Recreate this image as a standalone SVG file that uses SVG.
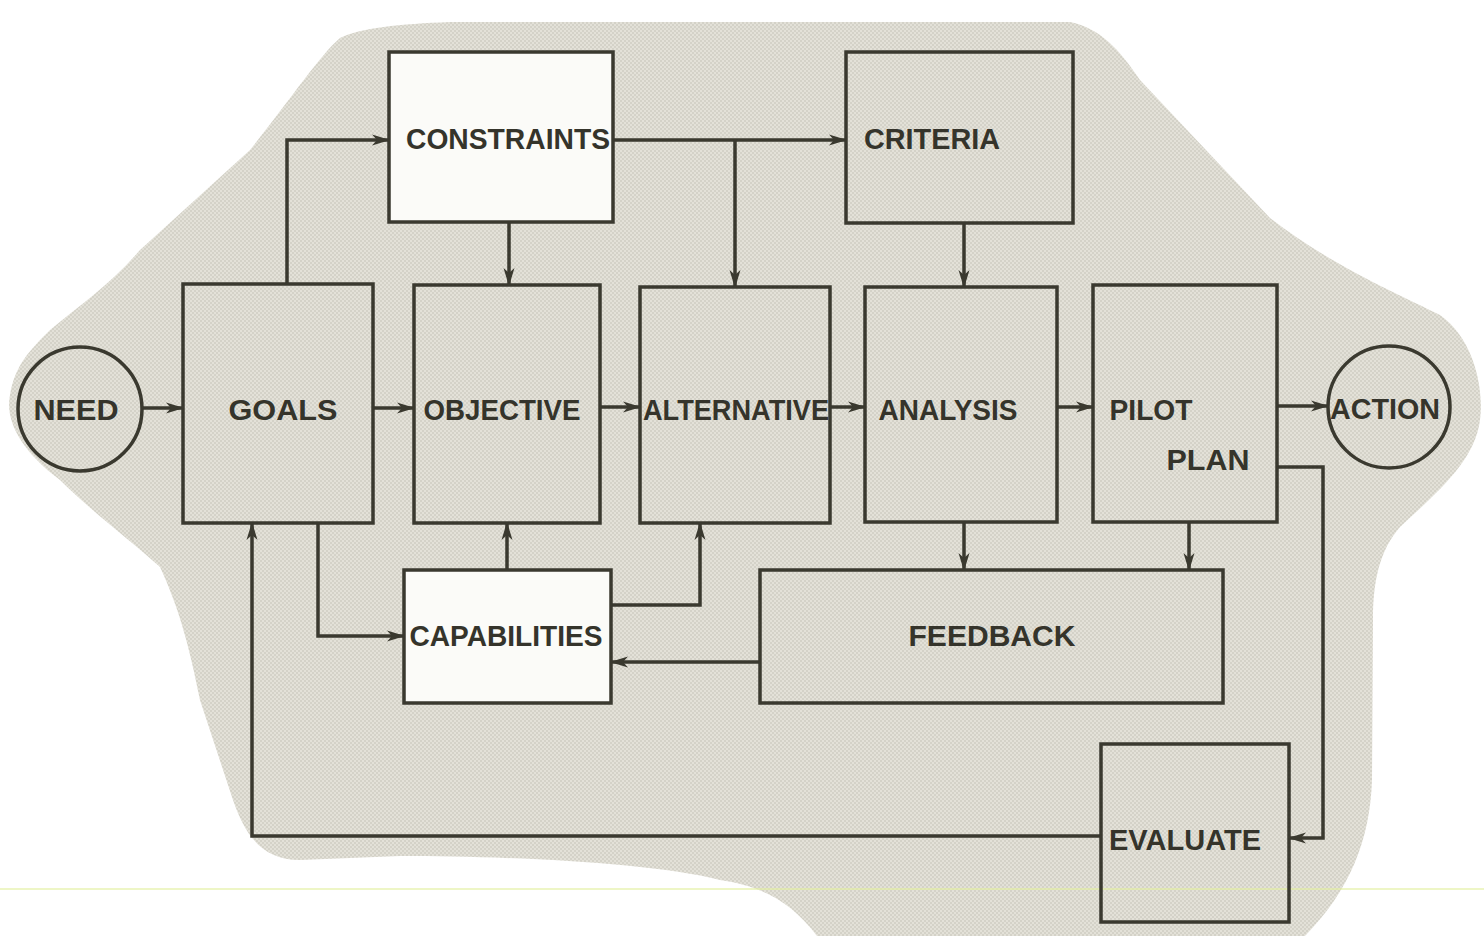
<svg xmlns="http://www.w3.org/2000/svg" width="1484" height="936" viewBox="0 0 1484 936">
<defs>
<marker id="ah" viewBox="0 0 18 12" refX="17" refY="6" markerWidth="18" markerHeight="12" markerUnits="userSpaceOnUse" orient="auto">
<path d="M0,0.5 L18,6 L0,11.5 L5,6 Z" fill="#3a392f"/>
</marker>
<pattern id="dots" width="4" height="4" patternUnits="userSpaceOnUse">
<rect width="4" height="4" fill="#e3e1d8"/>
<circle cx="1" cy="1" r="0.75" fill="#bebcb1"/>
<circle cx="3" cy="3" r="0.75" fill="#bebcb1"/>
</pattern>
</defs>
<style>
.box{fill:none;stroke:#3a392f;stroke-width:3.5}
.wbox{fill:#fbfbf8;stroke:#3a392f;stroke-width:3.5}
.circ{fill:none;stroke:#3a392f;stroke-width:3.5}
.lbl{font-family:"Liberation Sans",Arial,sans-serif;font-weight:bold;font-size:29px;fill:#35342b}
.con{fill:none;stroke:#3a392f;stroke-width:3.5}
.arr{marker-end:url(#ah)}
</style>
<rect width="1484" height="936" fill="#ffffff"/>
<path id="blob" d="M340,38 C360,28 400,24 450,22 L1070,22 C1100,28 1120,50 1140,80 L1270,218 C1330,265 1400,295 1440,315 C1475,340 1484,390 1480,420 C1475,460 1440,490 1400,527 C1380,550 1373,580 1373,620 L1372,780 C1370,840 1350,890 1305,936 L817,936 C790,900 760,886 720,880 C650,862 500,856 400,856 L300,860 C262,860 245,835 233,800 L200,700 C190,650 180,610 160,567 C130,540 90,510 60,480 C20,450 5,420 10,395 C15,365 30,350 50,330 C80,305 110,285 140,250 L250,150 C290,100 320,55 340,38 Z" fill="url(#dots)"/>
<line x1="0" y1="889" x2="1484" y2="889" stroke="#e4f1a0" stroke-width="1.5" opacity="0.8"/>
<g id="connectors">
<line class="con arr" x1="143" y1="408" x2="183" y2="408"/>
<line class="con arr" x1="373" y1="408" x2="414" y2="408"/>
<line class="con arr" x1="600" y1="407" x2="640" y2="407"/>
<line class="con arr" x1="830" y1="407" x2="865" y2="407"/>
<line class="con arr" x1="1057" y1="407" x2="1093" y2="407"/>
<line class="con arr" x1="1277" y1="406" x2="1328" y2="406"/>
<polyline class="con arr" points="287,284 287,140 389,140"/>
<line class="con arr" x1="613" y1="140" x2="846" y2="140"/>
<line class="con arr" x1="735" y1="140" x2="735" y2="287"/>
<line class="con arr" x1="509" y1="222" x2="509" y2="285"/>
<line class="con arr" x1="964" y1="223" x2="964" y2="287"/>
<polyline class="con arr" points="318,523 318,636 404,636"/>
<line class="con arr" x1="507" y1="570" x2="507" y2="523"/>
<polyline class="con arr" points="611,605 700,605 700,523"/>
<line class="con arr" x1="760" y1="662" x2="611" y2="662"/>
<line class="con arr" x1="964" y1="522" x2="964" y2="570"/>
<line class="con arr" x1="1189" y1="522" x2="1189" y2="570"/>
<polyline class="con arr" points="1277,467 1323,467 1323,838 1289,838"/>
<polyline class="con arr" points="1101,836 252,836 252,523"/>
</g>
<g id="need"><circle class="circ" cx="80" cy="409" r="62"/><text class="lbl" x="76" y="420" text-anchor="middle" textLength="85" lengthAdjust="spacingAndGlyphs">NEED</text></g>
<g id="goals"><rect class="box" x="183" y="284" width="190" height="239"/><text class="lbl" x="283" y="420" text-anchor="middle" textLength="109" lengthAdjust="spacingAndGlyphs">GOALS</text></g>
<g id="constraints"><rect class="wbox" x="389" y="52" width="224" height="170"/><text class="lbl" x="508" y="149" text-anchor="middle" textLength="204" lengthAdjust="spacingAndGlyphs">CONSTRAINTS</text></g>
<g id="criteria"><rect class="box" x="846" y="52" width="227" height="171"/><text class="lbl" x="932" y="149" text-anchor="middle" textLength="136" lengthAdjust="spacingAndGlyphs">CRITERIA</text></g>
<g id="objective"><rect class="box" x="414" y="285" width="186" height="238"/><text class="lbl" x="502" y="420" text-anchor="middle" textLength="157" lengthAdjust="spacingAndGlyphs">OBJECTIVE</text></g>
<g id="alternative"><rect class="box" x="640" y="287" width="190" height="236"/><text class="lbl" x="736" y="420" text-anchor="middle" textLength="186" lengthAdjust="spacingAndGlyphs">ALTERNATIVE</text></g>
<g id="analysis"><rect class="box" x="865" y="287" width="192" height="235"/><text class="lbl" x="948" y="420" text-anchor="middle" textLength="139" lengthAdjust="spacingAndGlyphs">ANALYSIS</text></g>
<g id="pilotplan"><rect class="box" x="1093" y="285" width="184" height="237"/><text class="lbl" x="1151" y="420" text-anchor="middle" textLength="83" lengthAdjust="spacingAndGlyphs">PILOT</text><text class="lbl" x="1208" y="470" text-anchor="middle" textLength="83" lengthAdjust="spacingAndGlyphs">PLAN</text></g>
<g id="action"><circle class="circ" cx="1389" cy="407" r="61"/><text class="lbl" x="1385" y="419" text-anchor="middle" textLength="110" lengthAdjust="spacingAndGlyphs">ACTION</text></g>
<g id="capabilities"><rect class="wbox" x="404" y="570" width="207" height="133"/><text class="lbl" x="506" y="646" text-anchor="middle" textLength="193" lengthAdjust="spacingAndGlyphs">CAPABILITIES</text></g>
<g id="feedback"><rect class="box" x="760" y="570" width="463" height="133"/><text class="lbl" x="992" y="646" text-anchor="middle" textLength="167" lengthAdjust="spacingAndGlyphs">FEEDBACK</text></g>
<g id="evaluate"><rect class="box" x="1101" y="744" width="188" height="178"/><text class="lbl" x="1185" y="850" text-anchor="middle" textLength="152" lengthAdjust="spacingAndGlyphs">EVALUATE</text></g>
</svg>
